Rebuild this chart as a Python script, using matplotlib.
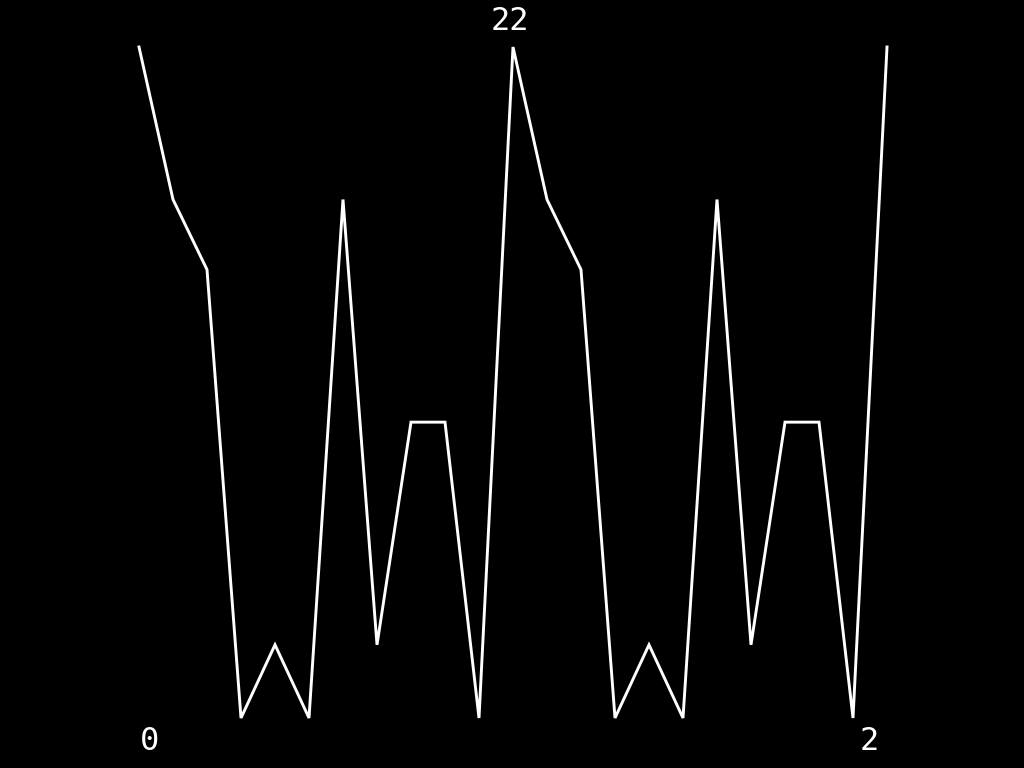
import numpy as np
import matplotlib
matplotlib.use("Agg")
import matplotlib.pyplot as plt

# values (23 samples, two repeats of a pattern)
values = [22, 17, 14.7, 0, 2.4, 0, 17, 2.4, 9.7, 9.7, 0,
          22, 17, 14.7, 0, 2.4, 0, 17, 2.4, 9.7, 9.7, 0, 22]
top_label = "22"
left_label = "0"
right_label = "2"

x = np.arange(len(values))

fig = plt.figure(figsize=(10.24, 7.68), dpi=100, facecolor="black")
ax = fig.add_axes([0, 0, 1, 1])
ax.set_facecolor("black")

ax.plot(x, values, color="white", linewidth=2.1, solid_joinstyle="miter")

# map index 0 -> 139px, spacing 34px; value 0 -> 718px from top, 22 -> 47px
step = 34.0
ax.set_xlim(-139 / step, (1024 - 139) / step)
unit = (718 - 47) / 22.0
ax.set_ylim(-(768 - 718) / unit, 22 + 47 / unit)
ax.axis("off")

font = dict(color="white", fontsize=23, family="DejaVu Sans Mono",
            ha="center", va="center")
fig.text(510 / 1024, 1 - 22 / 768, top_label, **font)
fig.text(150 / 1024, 1 - 741 / 768, left_label, **font)
fig.text(869 / 1024, 1 - 741 / 768, right_label, **font)

fig.savefig("out.png", dpi=100, facecolor="black")
